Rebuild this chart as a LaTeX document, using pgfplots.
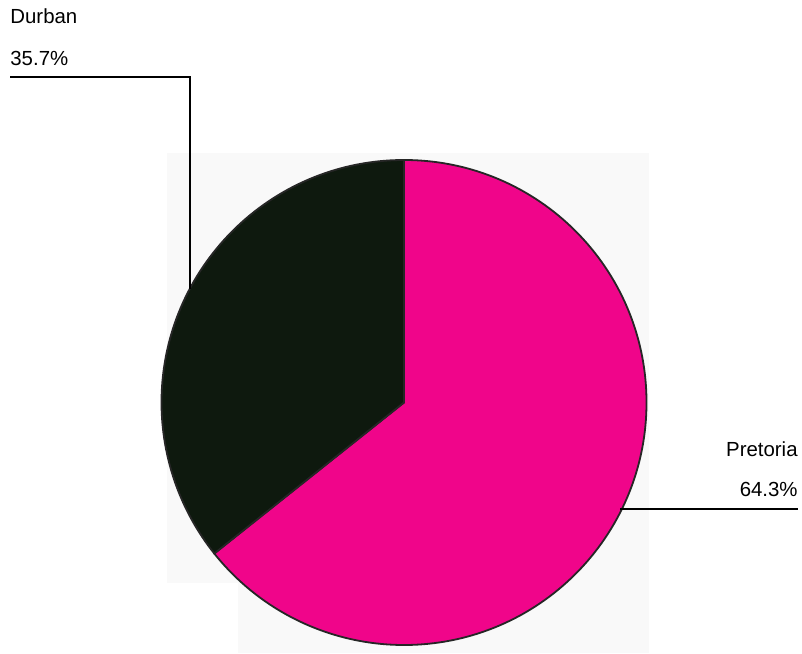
\documentclass[border=0pt]{standalone}
\usepackage{pgfplots}
\pgfplotsset{compat=1.18}
\usepackage{pgfplotstable}
\usepackage{fontspec}
\setmainfont{Liberation Sans}
\definecolor{pret}{HTML}{F0058A}
\definecolor{durb}{HTML}{0E190E}
\definecolor{bg}{HTML}{F9F9F9}
\pgfplotstableread{
city value
Pretoria 64.3
Durban 35.7
}\piedata
\pgfplotstablegetelem{0}{value}\of\piedata \let\vp\pgfplotsretval
\pgfplotstablegetelem{1}{value}\of\piedata \let\vd\pgfplotsretval
\pgfmathsetmacro{\ap}{3.6*\vp}
\pgfmathsetmacro{\ad}{3.6*\vd}
\begin{document}%
\begin{tikzpicture}
\begin{axis}[x=0.5pt,y=0.5pt,xmin=0,xmax=802,ymin=0,ymax=653,hide axis,clip=false]
\path (axis cs:0,0) rectangle (axis cs:802,653);
\fill[bg] (axis cs:167,500) rectangle (axis cs:649,70);
\fill[bg] (axis cs:238,70) rectangle (axis cs:649,0);
\draw[fill=pret,draw=black!85,line width=0.9pt] (axis cs:404,250.5) -- ++(0,121.25pt) arc[start angle=90,delta angle=-\ap,radius=121.25pt] -- cycle;
\draw[fill=durb,draw=black!85,line width=0.9pt] (axis cs:404,250.5) -- ++(0,121.25pt) arc[start angle=90,delta angle=\ad,radius=121.25pt] -- cycle;
\draw[black,line width=1pt] (axis cs:10,576) -- (axis cs:190,576) -- (axis cs:190,364);
\draw[black,line width=1pt] (axis cs:620,144) -- (axis cs:798,144);
\node[anchor=base west,inner sep=0pt,font=\fontsize{10.2}{12}\selectfont] at (axis cs:10,629) {Durban};
\node[anchor=base west,inner sep=0pt,font=\fontsize{10.2}{12}\selectfont] at (axis cs:10,587) {35.7\%};
\node[anchor=base east,inner sep=0pt,font=\fontsize{10.2}{12}\selectfont] at (axis cs:798,196) {Pretoria};
\node[anchor=base east,inner sep=0pt,font=\fontsize{10.2}{12}\selectfont] at (axis cs:798,156) {64.3\%};
\end{axis}
\end{tikzpicture}%
\end{document}
